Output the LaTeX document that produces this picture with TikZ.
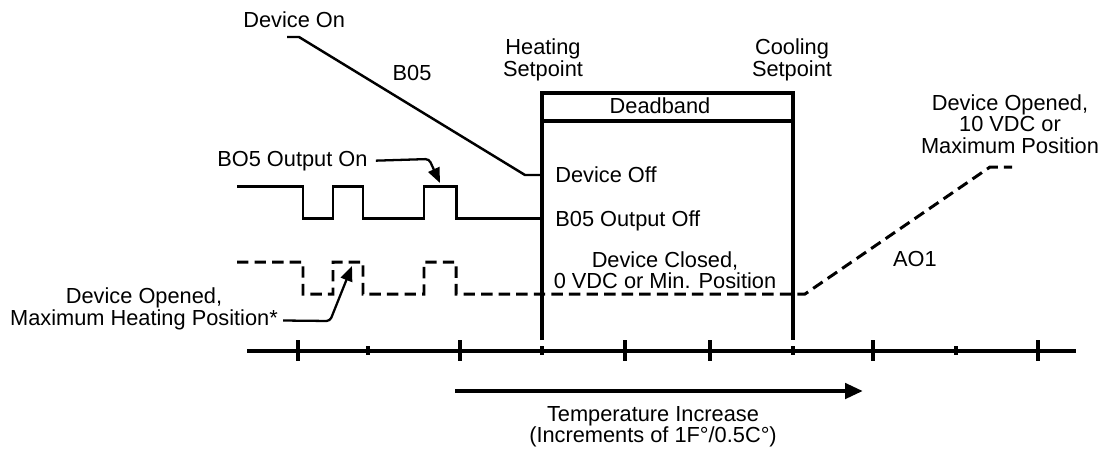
\documentclass[tikz,border=0pt]{standalone}
\usepackage{fontspec}
\setmainfont{Liberation Sans}
\usetikzlibrary{arrows.meta, positioning}

\begin{document}
\begin{tikzpicture}[x=0.02cm, y=-0.02cm,
    lbl/.style={font=\fontsize{12.4}{12.2}\selectfont, inner sep=0pt, align=center},
    sig/.style={line width=1.7pt},
    dsig/.style={line width=1.7pt, dash pattern=on 6.5pt off 3.5pt},
    rail/.style={line width=2pt},
    ptr/.style={line width=1.3pt, rounded corners=2pt, -{Triangle[length=0.3cm, width=0.24cm]}}]

    % Fix the page to the reference size
    \useasboundingbox (0,0) rectangle (1105,451);

    % --- DEADBAND BOX ---
    % Heating and cooling setpoint lines with the deadband header
    \coordinate (hbot) at (542,340);
    \coordinate (htop) at (542,93);
    \coordinate (ctop) at (793,93);
    \coordinate (cbot) at (793,340);
    \coordinate (hdiv) at (542,121);
    \coordinate (cdiv) at (793,121);
    \draw[rail] (hbot) -- (htop) -- (ctop) -- (cbot);
    \draw[rail] (hdiv) -- (cdiv);

    \node[lbl] (heatsp) at (543,60) {Heating\\Setpoint};
    \node[lbl] (coolsp) at (792,60) {Cooling\\Setpoint};
    \node[lbl, anchor=base] (deadband) at (660,113) {Deadband};

    % --- BINARY OUTPUT ---
    % Device On ramp down to Device Off
    \coordinate (don) at (287,37);
    \coordinate (dona) at (299,37);
    \coordinate (donb) at (525,175);
    \coordinate (doff) at (542,175);
    \draw[line width=1.4pt] (don) -- (dona) -- (donb) -- (doff);
    \node[lbl, anchor=base west] (devon) at (243,27) {Device On};
    \node[lbl, anchor=base] (bfive) at (412,80) {B05};
    \node[lbl, anchor=base west] (devoff) at (555,182) {Device Off};

    % Pulsed output, solid
    \draw[sig] (237,186) -| (303,218) -| (333,186) -| (363,218) -| (424,186) -| (456,218) -- (542,218);
    \node[lbl, anchor=base west] (outoff) at (555,226) {B05 Output Off};

    % Output on pointer
    \node[lbl, anchor=base west] (outon) at (217,166) {BO5 Output On};
    \coordinate (outtip) at (440,183);
    \draw[ptr] ([xshift=0.16cm]outon.east) -- (429,159) -- (outtip);

    % --- ANALOG OUTPUT ---
    % Pulsed output, dashed, then ramp up past the cooling setpoint
    \draw[dsig] (237,262) -| (303,294) -| (333,262) -| (363,294) -| (424,262) -| (456,294)
        -- (805,294) -- (990,167) -- (1012,167);

    \node[lbl] (closed) at (665,270) {Device Closed,\\0 VDC or Min. Position};
    \node[lbl, anchor=base] (aoone) at (915,266) {AO1};
    \node[lbl] (opened) at (1010,124) {Device Opened,\\10 VDC or\\Maximum Position};

    % Maximum heating pointer
    \node[lbl] (heatmax) at (144,309) {Device Opened,\\Maximum Heating Position*};
    \coordinate (heattip) at (352,266);
    \draw[ptr] ([shift={(0.1cm,-0.23cm)}]heatmax.east) -- (330,321) -- (heattip);

    % --- TEMPERATURE AXIS ---
    \coordinate (axl) at (247,351);
    \coordinate (axr) at (1076,351);
    \draw[rail] (axl) -- (axr);
    \foreach \x in {298,460,625,710,873,1038}
        \draw[rail] (\x,340) -- (\x,361);
    \foreach \x in {368,542,793,956}
        \draw[rail] (\x,346) -- (\x,355);

    % Temperature increase arrow
    \coordinate (tstart) at (455,391);
    \coordinate (tend) at (863,391);
    \draw[line width=2.8pt, -{Triangle[length=0.36cm, width=0.3cm]}] (tstart) -- (tend);
    \node[lbl] (tempinc) at (653,427) {Temperature Increase\\(Increments of 1F\textdegree/0.5C\textdegree)};

\end{tikzpicture}
\end{document}
